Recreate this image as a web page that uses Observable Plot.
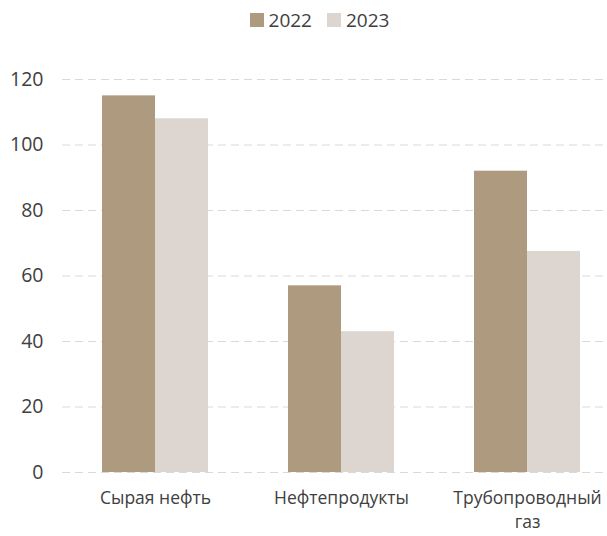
<!DOCTYPE html>
<html><head><meta charset="utf-8">
<script src="https://cdn.jsdelivr.net/npm/d3@7"></script>
<script src="https://cdn.jsdelivr.net/npm/@observablehq/plot@0.6"></script>
<style>
body{margin:0;background:#fff;font-family:"Open Sans",sans-serif;color:#404040;width:607px;overflow:hidden}
#legend{height:40px;display:flex;justify-content:center;align-items:center;gap:15px;font-size:19px;padding-left:32px;box-sizing:border-box}
#legend span.item{display:flex;align-items:center;gap:5px}
#legend span.sw{width:14px;height:14px;display:inline-block}
</style>
</head><body>
<div id="legend"></div>
<div id="chart"></div>
<script>
const categories = ["Сырая нефть", "Нефтепродукты", "Трубопроводный газ"];
const tickLabels = ["Сырая нефть", "Нефтепродукты", "Трубопроводный\nгаз"];
const years = ["2022", "2023"];
const values2022 = [115, 57, 92];
const values2023 = [108, 43, 67.5];
const yTicks = [0, 20, 40, 60, 80, 100, 120];
const colors = ["#ae9a7e", "#ddd5d0"];

const rows2022 = categories.map((c, i) => ({cat: c, year: years[0], value: values2022[i]}));
const rows2023 = categories.map((c, i) => ({cat: c, year: years[1], value: values2023[i]}));

const legend = document.getElementById("legend");
years.forEach((y, i) => {
  const it = document.createElement("span");
  it.className = "item";
  it.innerHTML = `<span class="sw" style="background:${colors[i]}"></span><span>${y}</span>`;
  legend.appendChild(it);
});

const chart = Plot.plot({
  width: 607,
  height: 496,
  marginTop: 39,
  marginBottom: 64,
  marginLeft: 62,
  marginRight: -13,
  style: {fontFamily: "'Open Sans', sans-serif", fontSize: "18px", color: "#404040", background: "#fff"},
  x: {domain: categories, paddingInner: 0.43, paddingOuter: 0.215},
  y: {domain: [0, 120]},
  color: {domain: years, range: colors},
  marks: [
    Plot.ruleY(yTicks, {stroke: "#d9d9d9", strokeWidth: 1.2, strokeDasharray: "8,5"}),
    Plot.barY(rows2022, {x: "cat", y: "value", fill: "year", insetRight: 53}),
    Plot.barY(rows2023, {x: "cat", y: "value", fill: "year", insetLeft: 53}),
    Plot.axisY({ticks: yTicks, tickSize: 0, tickPadding: 19, label: null, fontSize: 19.5}),
    Plot.axisX({tickSize: 0, tickPadding: 15, label: null, lineHeight: 1.36, fontSize: 17.5,
      tickFormat: d => tickLabels[categories.indexOf(d)]})
  ]
});
document.getElementById("chart").appendChild(chart);
</script>
</body></html>
